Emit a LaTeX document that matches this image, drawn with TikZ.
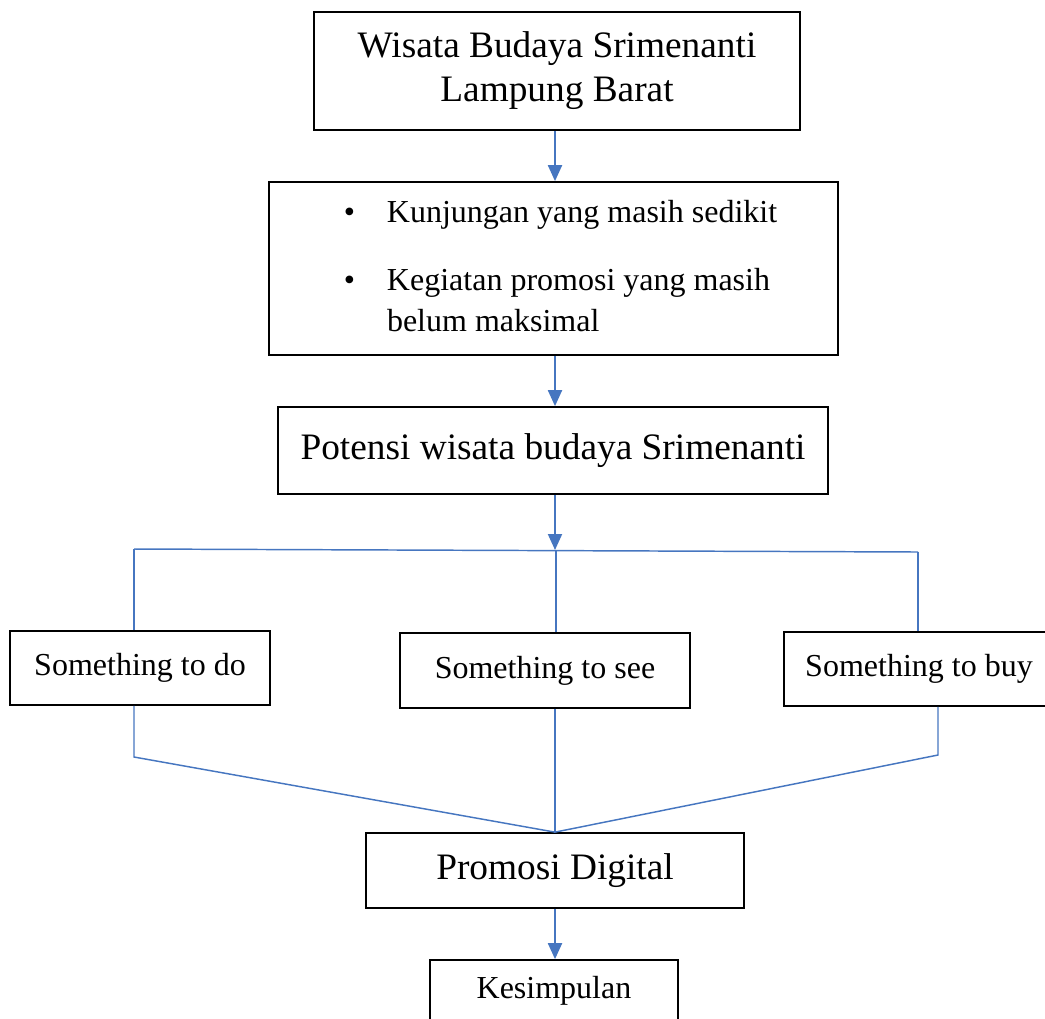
\documentclass[tikz,border=0pt]{standalone}
\usepackage{fontspec}
\setmainfont{Liberation Serif}
\usetikzlibrary{arrows.meta}
\definecolor{garisbiru}{RGB}{70,118,192}
\tikzset{
  kotak/.style={draw=black, line width=1.3pt, inner sep=0pt, align=center},
  garis/.style={draw=garisbiru, line width=1.1pt},
  panah/.style={draw=garisbiru, line width=1.5pt, -{Triangle[width=10.5pt,length=12pt]}},
}
\begin{document}
\begin{tikzpicture}[x=0.75pt,y=0.75pt,yscale=-1,xscale=1]
    \useasboundingbox (0,0) rectangle (1045,1018);
    % Boxes
    \node[kotak, minimum width=364.5pt, minimum height=88.5pt, font=\fontsize{28}{33}\selectfont] (wisata) at (557,71) {Wisata Budaya Srimenanti\\Lampung Barat};
    \node[kotak, minimum width=426.75pt, minimum height=129.75pt, font=\fontsize{24}{30.75}\selectfont] (masalah) at (553.5,268.5) {\begin{tabular}{@{\hspace{10.5pt}}l@{\hspace{24pt}}l@{}}\textbullet & Kunjungan yang masih sedikit\\[20pt] \textbullet & Kegiatan promosi yang masih\\ & belum maksimal\end{tabular}};
    \node[kotak, minimum width=412.5pt, minimum height=65.25pt, font=\fontsize{28}{33}\selectfont] (potensi) at (553,450.5) {Potensi wisata budaya Srimenanti};
    \node[kotak, minimum width=195pt, minimum height=55.5pt, font=\fontsize{24}{29}\selectfont] (todo) at (140,668) {Something to do};
    \node[kotak, minimum width=217.5pt, minimum height=56.25pt, font=\fontsize{24}{29}\selectfont] (see) at (545,670.5) {Something to see};
    \node[kotak, minimum width=202.5pt, minimum height=55.5pt, font=\fontsize{24}{29}\selectfont] (buy) at (919,669) {Something to buy};
    \node[kotak, minimum width=283.5pt, minimum height=56.25pt, font=\fontsize{28}{33}\selectfont] (promosi) at (555,870.5) {Promosi Digital};
    \node[kotak, minimum width=186pt, minimum height=46.5pt, font=\fontsize{24}{29}\selectfont] (simpulan) at (554,991) {Kesimpulan};

    % Points
    \coordinate (bagi) at (555,550);
    \coordinate (kiri) at (134,549);
    \coordinate (kanan) at (918,552);
    \coordinate (tengah) at (556,550.5);
    \coordinate (sikukiri) at (134,757);
    \coordinate (sikukanan) at (938,755);

    % Arrows
    \draw[panah] (wisata.south -| bagi) -- (masalah.north -| bagi);
    \draw[panah] (masalah.south -| bagi) -- (potensi.north -| bagi);
    \draw[panah] (potensi.south -| bagi) -- (bagi);
    \draw[panah] (promosi.south -| bagi) -- (simpulan.north -| bagi);

    % Straight Lines
    \draw[garis] (kiri) -- (kanan);
    \draw[garis] (kiri) -- (kiri |- todo.north);
    \draw[garis] (tengah) -- (tengah |- see.north);
    \draw[garis] (kanan) -- (kanan |- buy.north);
    \draw[garis] (todo.south -| sikukiri) -- (sikukiri) -- (promosi.north);
    \draw[garis] (see.south -| promosi) -- (promosi.north);
    \draw[garis] (buy.south -| sikukanan) -- (sikukanan) -- (promosi.north);
\end{tikzpicture}
\end{document}
